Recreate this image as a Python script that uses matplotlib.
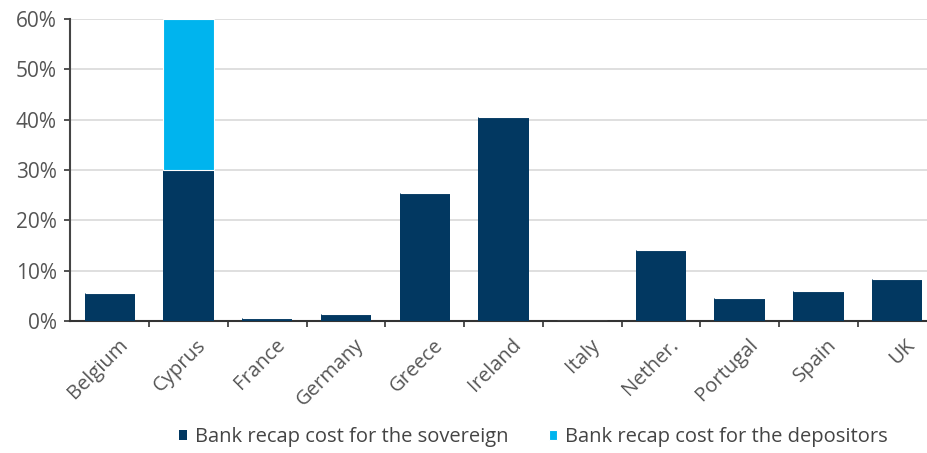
import numpy as np
import matplotlib.pyplot as plt
from matplotlib.ticker import FuncFormatter, FixedLocator

plt.rcParams['font.family'] = ['Open Sans', 'DejaVu Sans']

countries = ["Belgium", "Cyprus", "France", "Germany", "Greece", "Ireland",
             "Italy", "Nether.", "Portugal", "Spain", "UK"]
sovereign = [5.6, 30.0, 0.6, 1.4, 25.4, 40.5, 0.0, 14.1, 4.6, 6.0, 8.4]
depositors = [0.0, 30.0, 0.0, 0.0, 0.0, 0.0, 0.0, 0.0, 0.0, 0.0, 0.0]

dark = "#023861"
light = "#00b4ee"

fig = plt.figure(figsize=(9.27, 4.53), dpi=100)
ax = fig.add_axes([0.076, 0.291, 0.924, 0.667])

x = np.arange(len(countries))
ax.bar(x, sovereign, width=0.64, color=dark, label="Bank recap cost for the sovereign", zorder=3)
ax.bar(x, depositors, width=0.64, bottom=sovereign, color=light, edgecolor="white",
       linewidth=0.8, label="Bank recap cost for the depositors", zorder=3)

ax.set_xlim(-0.5, 10.38)
ax.set_ylim(0, 60)
ax.set_yticks(np.arange(0, 61, 10))
ax.yaxis.set_major_formatter(FuncFormatter(lambda v, p: f"{v:.0f}%"))
ax.grid(axis="y", color="#d9d9d9", linewidth=1.2, zorder=0)

ax.set_xticks(x + 0.1)
ax.set_xticklabels(countries, rotation=45, ha="right", rotation_mode="anchor",
                   fontsize=14.5, color="#555555")
ax.tick_params(axis="x", which="major", length=0, pad=10)
ax.xaxis.set_minor_locator(FixedLocator(np.arange(0.5, 10.5, 1)))
ax.tick_params(axis="x", which="minor", length=4, width=1.2, color="#333333", direction="out")
ax.tick_params(axis="y", length=4, width=1.2, color="#333333", labelsize=15,
               labelcolor="#555555", pad=6)

for s in ["top", "right"]:
    ax.spines[s].set_visible(False)
ax.spines["left"].set_color("#444444")
ax.spines["left"].set_linewidth(1.5)
ax.spines["bottom"].set_color("#333333")
ax.spines["bottom"].set_linewidth(1.5)

fig.legend(loc="center", bbox_to_anchor=(0.575, 0.035), ncol=2, frameon=False,
           handlelength=0.4, handleheight=0.4, handletextpad=0.4, columnspacing=2.0,
           fontsize=14.5, labelcolor="#444444")

fig.savefig("out.png", dpi=100)
